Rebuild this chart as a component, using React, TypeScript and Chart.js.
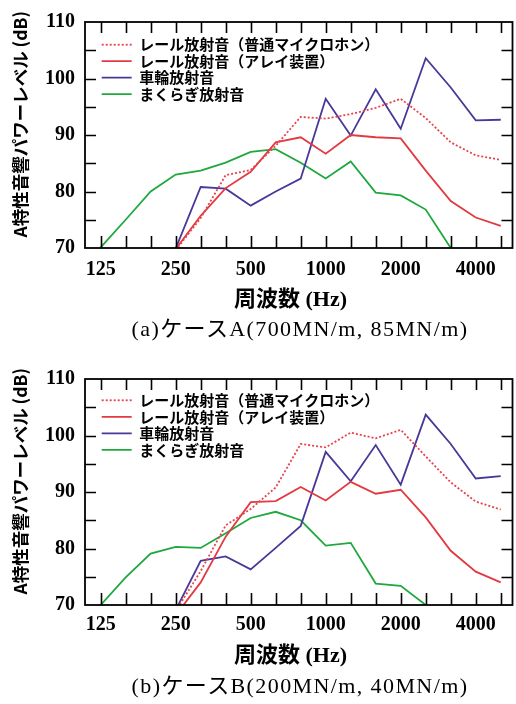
import React, { useEffect, useRef } from 'react';
import { Chart, registerables } from 'chart.js';

Chart.register(...registerables);

// 1/3 octave band centre frequencies (Hz)
const freqLabels = ['125', '160', '200', '250', '315', '400', '500', '630', '800', '1000', '1250', '1600', '2000', '2500', '3150', '4000', '5000'];
const shownFreqTicks = ['125', '250', '500', '1000', '2000', '4000'];

const seriesNames = ['レール放射音（普通マイクロホン）', 'レール放射音（アレイ装置）', '車輪放射音', 'まくらぎ放射音'];

// (a) ケースA
const railMicA = [null, null, null, 69.6, 75.3, 82.9, 83.8, 88.1, 93.2, 92.9, 93.7, 94.8, 96.4, 93.0, 88.7, 86.4, 85.6];
const railArrayA = [null, null, null, 69.8, 75.7, 80.6, 83.5, 88.7, 89.6, 86.7, 90.0, 89.6, 89.4, 83.7, 78.3, 75.4, 73.9];
const wheelA = [null, null, null, 69.9, 80.8, 80.5, 77.5, 80.0, 82.3, 96.4, 89.9, 98.1, 91.1, 103.6, 98.4, 92.6, 92.7];
const sleeperA = [70.1, 75.0, 80.0, 83.0, 83.7, 85.1, 87.0, 87.5, 85.1, 82.3, 85.3, 79.8, 79.3, 76.8, 70.0, null, null];

// (b) ケースB
const railMicB = [null, null, null, 68.9, 76.0, 84.1, 87.0, 90.8, 98.5, 97.9, 100.5, 99.5, 101.0, 96.3, 91.7, 88.3, 86.9];
const railArrayB = [null, null, null, 68.2, 74.0, 82.1, 88.2, 88.4, 90.9, 88.5, 91.8, 89.7, 90.4, 85.5, 79.6, 75.9, 74.0];
const wheelB = [null, null, null, 69.1, 77.8, 78.6, 76.3, 80.1, 84.0, 97.1, 91.9, 98.3, 91.3, 103.7, 98.5, 92.4, 92.8];
const sleeperB = [70.0, 74.9, 79.1, 80.3, 80.1, 82.7, 85.4, 86.5, 85.0, 80.5, 81.0, 73.8, 73.4, 70.0, null, null, null];

const yMin = 70;
const yMax = 110;

const xTitle = '周波数 (Hz)\u00a0\u00a0\u00a0';
const yTitle = '\u3000 A特性音響パワーレベル (dB)';
const captionA = '(a)ケースA(700MN/m, 85MN/m)';
const captionB = '(b)ケースB(200MN/m, 40MN/m)';

const COLORS = ['#e8424b', '#e23a40', '#4a3899', '#1fa83d'];
const LINE_W = 1.8;

function toPoints(vals: (number | null)[]) {
  return vals
    .map((v, i) => ({ x: i, y: v }))
    .filter((p) => p.y !== null) as { x: number; y: number }[];
}

const framePlugin = {
  id: 'frameTicks',
  afterDraw(chart: any) {
    const { ctx, chartArea, scales } = chart;
    const { left, right, top, bottom } = chartArea;
    const x = scales.x;
    const y = scales.y;
    ctx.save();
    ctx.strokeStyle = '#000';
    ctx.lineWidth = 1.6;
    ctx.beginPath();
    x.ticks.forEach((t: any) => {
      const px = Math.round(x.getPixelForValue(t.value)) + 0.5;
      ctx.moveTo(px, bottom);
      ctx.lineTo(px, bottom - 12);
      ctx.moveTo(px, top);
      ctx.lineTo(px, top + 11);
    });
    y.ticks.forEach((t: any) => {
      if (t.value <= yMin || t.value >= yMax) return;
      const py = Math.round(y.getPixelForValue(t.value)) + 0.5;
      ctx.moveTo(left, py);
      ctx.lineTo(left + 11, py);
      ctx.moveTo(right, py);
      ctx.lineTo(right - 11, py);
    });
    ctx.stroke();
    ctx.lineWidth = 1.8;
    ctx.strokeRect(left, top, right - left, bottom - top);
    ctx.restore();
  },
};

function makeLegendShift(dx: number, dy: number) {
  return {
    id: 'legendShift',
    afterLayout(chart: any) {
      const lg = chart.legend;
      if (!lg) return;
      const w = lg.width;
      const h = lg.height;
      lg.left = chart.chartArea.left + dx;
      lg.right = lg.left + w;
      lg.top = chart.chartArea.top + dy;
      lg.bottom = lg.top + h;
    },
  };
}

type PanelProps = {
  top: number;
  series: (number | null)[][];
  caption: string;
  captionTop: number;
  labelPad: number;
  titlePad: number;
  legendDy: number;
};

function Panel({ top, series, caption, captionTop, labelPad, titlePad, legendDy }: PanelProps) {
  const ref = useRef<HTMLCanvasElement>(null);
  useEffect(() => {
    const datasets = series.map((vals, i) => ({
      label: seriesNames[i],
      data: toPoints(vals),
      borderColor: COLORS[i],
      backgroundColor: COLORS[i],
      borderWidth: LINE_W,
      borderDash: i === 0 ? [2, 2] : [],
      pointRadius: 0,
      tension: 0,
      fill: false,
    }));
    const chart = new Chart(ref.current as HTMLCanvasElement, {
      type: 'line',
      data: { datasets },
      options: {
        animation: false,
        responsive: false,
        devicePixelRatio: 1,
        layout: { padding: { top: 19, right: 3.5, left: 0, bottom: 0 } },
        plugins: {
          tooltip: { enabled: false },
          title: { display: false },
          legend: {
            position: 'chartArea',
            align: 'start',
            labels: {
              usePointStyle: true,
              pointStyle: 'line',
              pointStyleWidth: 30,
              padding: 1.5,
              color: '#000',
              font: { family: "'Noto Sans CJK JP', sans-serif", size: 15, weight: 'bold' },
              generateLabels: (ch: any) => {
                const items = (Chart.defaults as any).plugins.legend.labels.generateLabels(ch);
                items.forEach((it: any) => {
                  const ds = ch.data.datasets[it.datasetIndex];
                  it.lineDash = ds.borderDash;
                  it.lineWidth = ds.borderWidth;
                  it.strokeStyle = ds.borderColor;
                  it.fillStyle = ds.borderColor;
                });
                return items;
              },
            },
          },
        },
        scales: {
          x: {
            type: 'linear',
            min: -0.626,
            max: 16.47,
            grid: { display: false, drawTicks: false },
            border: { display: false },
            afterBuildTicks: (axis: any) => {
              axis.ticks = freqLabels.map((_, i) => ({ value: i }));
            },
            afterFit: (axis: any) => {
              axis.height = 72;
            },
            ticks: {
              autoSkip: false,
              maxRotation: 0,
              minRotation: 0,
              padding: labelPad,
              color: '#000',
              font: { family: "'Liberation Serif', serif", size: 20, weight: 'bold' },
              callback: (v: any) => {
                const lab = freqLabels[Math.round(Number(v))];
                return shownFreqTicks.includes(lab) ? lab : '';
              },
            },
            title: {
              display: true,
              text: xTitle,
              color: '#000',
              font: { family: "'Liberation Serif', 'Noto Sans CJK JP', serif", size: 22, weight: 'bold' },
              padding: { top: 0, bottom: titlePad },
            },
          },
          y: {
            min: yMin,
            max: yMax,
            grid: { display: false, drawTicks: false },
            border: { display: false },
            afterFit: (axis: any) => {
              axis.width = 85;
            },
            ticks: {
              stepSize: 5,
              autoSkip: false,
              padding: 10,
              color: '#000',
              font: { family: "'Liberation Serif', serif", size: 20, weight: 'bold' },
              callback: (v: any) => (Number(v) % 10 === 0 ? String(v) : ''),
            },
            title: {
              display: true,
              text: yTitle,
              color: '#000',
              font: { family: "'Noto Sans CJK JP', sans-serif", size: 17.5, weight: 'bold' },
              padding: { top: 9.5, bottom: 0 },
            },
          },
        },
      } as any,
      plugins: [framePlugin, makeLegendShift(15.2, legendDy)],
    });
    return () => chart.destroy();
  }, []);
  return (
    <>
      <canvas
        ref={ref}
        width={516}
        height={320}
        style={{ position: 'absolute', left: 0, top, width: 516, height: 320 }}
      />
      <div
        style={{
          position: 'absolute',
          left: 300,
          top: captionTop,
          transform: 'translateX(-50%)',
          whiteSpace: 'nowrap',
          fontFamily: "'Liberation Serif', 'Noto Sans CJK JP', serif",
          fontSize: 22,
          letterSpacing: '1.4px',
          lineHeight: '26px',
          color: '#000',
        }}
      >
        {caption}
      </div>
    </>
  );
}

export default function App() {
  return (
    <div
      style={{
        position: 'absolute',
        left: 0,
        top: 0,
        width: 516,
        height: 704,
        overflow: 'hidden',
        background: '#fff',
      }}
    >
      <Panel
        top={0}
        series={[railMicA, railArrayA, wheelA, sleeperA]}
        caption={captionA}
        captionTop={316}
        labelPad={10}
        titlePad={6.4}
        legendDy={13.7}
      />
      <Panel
        top={357}
        series={[railMicB, railArrayB, wheelB, sleeperB]}
        caption={captionB}
        captionTop={673}
        labelPad={8}
        titlePad={7.4}
        legendDy={12.3}
      />
    </div>
  );
}
